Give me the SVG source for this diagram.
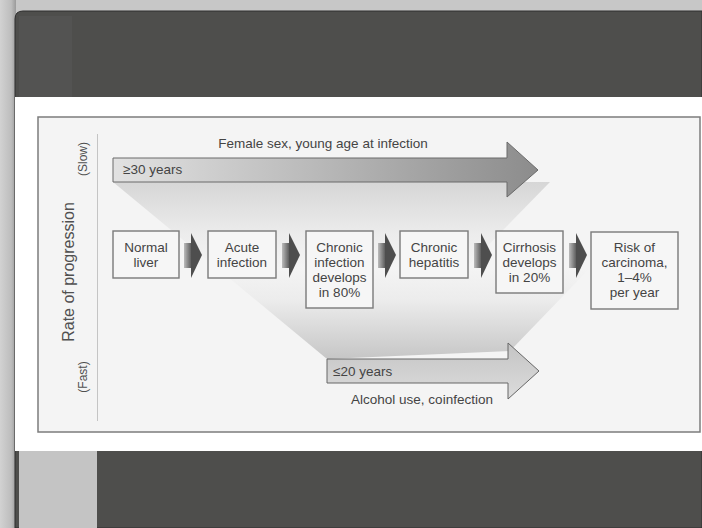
<svg xmlns="http://www.w3.org/2000/svg" width="702" height="528" viewBox="0 0 702 528">
  <defs>
    <linearGradient id="leftStrip" x1="0" y1="0" x2="1" y2="0">
      <stop offset="0" stop-color="#d2d2d2"/>
      <stop offset="0.7" stop-color="#bdbdbd"/>
      <stop offset="1" stop-color="#9a9a9a"/>
    </linearGradient>
    <linearGradient id="topArrowGrad" gradientUnits="userSpaceOnUse" x1="113" y1="0" x2="538" y2="0">
      <stop offset="0" stop-color="#e2e2e2"/>
      <stop offset="1" stop-color="#8c8c8c"/>
    </linearGradient>
    <linearGradient id="botArrowGrad" gradientUnits="userSpaceOnUse" x1="0" y1="343" x2="0" y2="399">
      <stop offset="0" stop-color="#c4c4c4"/>
      <stop offset="1" stop-color="#dcdcdc"/>
    </linearGradient>
    <linearGradient id="topWedge" gradientUnits="userSpaceOnUse" x1="0" y1="182" x2="0" y2="268">
      <stop offset="0" stop-color="#d6d6d6"/>
      <stop offset="0.6" stop-color="#ececec"/>
      <stop offset="1" stop-color="#f4f4f4"/>
    </linearGradient>
    <linearGradient id="botWedge" gradientUnits="userSpaceOnUse" x1="0" y1="268" x2="0" y2="359">
      <stop offset="0" stop-color="#f4f4f4"/>
      <stop offset="0.35" stop-color="#ececec"/>
      <stop offset="1" stop-color="#c6c6c6"/>
    </linearGradient>
    <linearGradient id="shaftGrad" x1="0" y1="0" x2="1" y2="0">
      <stop offset="0" stop-color="#bcbcbc"/>
      <stop offset="1" stop-color="#5e5e5e"/>
    </linearGradient>
    <g id="stepArrow">
      <rect x="0" y="-12" width="7" height="25" fill="url(#shaftGrad)"/>
      <polygon points="7,-22 18,0 7,23" fill="#4e4e4e"/>
    </g>
  </defs>
  <style>
    .box { fill: #f6f6f6; stroke: #7a7a7a; stroke-width: 1.4; }
    .lbl { font-family: "Liberation Sans", Arial, sans-serif; font-size: 13.5px; fill: #444444; text-anchor: middle; }
    .lbl2 { font-family: "Liberation Sans", Arial, sans-serif; font-size: 13.5px; fill: #444444; }
    .axis { font-family: "Liberation Sans", Arial, sans-serif; fill: #505050; text-anchor: middle; }
  </style>

  <!-- background -->
  <rect x="0" y="0" width="702" height="528" fill="#c7c7c7"/>
  <rect x="0" y="0" width="16" height="528" fill="url(#leftStrip)"/>
  <!-- dark frame -->
  <path d="M15,528 V19 Q15,11 23,11 H702 V528 Z" fill="#4e4e4c" stroke="#2e2e2e" stroke-width="1"/>
  <rect x="19" y="16" width="53" height="81" fill="#535352"/>
  <!-- white band -->
  <rect x="15" y="97" width="687" height="354" fill="#ffffff"/>
  <!-- bottom left light area -->
  <rect x="19" y="451" width="78" height="77" fill="#c4c4c4"/>

  <!-- panel -->
  <rect x="38" y="117" width="662" height="315" fill="#f4f4f4" stroke="#7c7c7c" stroke-width="1.5"/>
  <line x1="97.5" y1="134" x2="97.5" y2="421" stroke="#c4c4c4" stroke-width="1"/>

  <!-- axis labels -->
  <text class="axis" font-size="16" transform="translate(73.5,272) rotate(-90)">Rate of progression</text>
  <text class="axis" font-size="12" transform="translate(86.5,159) rotate(-90)">(Slow)</text>
  <text class="axis" font-size="12" transform="translate(86.5,377) rotate(-90)">(Fast)</text>

  <!-- wedges -->
  <polygon points="113,182 550,182 466,268 217,268" fill="url(#topWedge)"/>
  <polygon points="217,268 590,268 510,351 327,359" fill="url(#botWedge)"/>

  <!-- big arrows -->
  <g id="slow-arrow">
    <polygon points="113,158 507,158 507,142 538,170 507,197 507,182 113,182" fill="url(#topArrowGrad)" stroke="#6a6a6a" stroke-width="1"/>
    <text class="lbl2" x="123" y="174">≥30 years</text>
    <text class="lbl" x="323" y="148">Female sex, young age at infection</text>
  </g>
  <g id="fast-arrow">
    <polygon points="327,359 508,359 508,343 539,371 508,399 508,383 327,383" fill="url(#botArrowGrad)" stroke="#666666" stroke-width="1"/>
    <text class="lbl2" x="333" y="376">≤20 years</text>
    <text class="lbl" x="422" y="404">Alcohol use, coinfection</text>
  </g>

  <!-- connectors -->
  <g id="connectors">
    <use href="#stepArrow" x="184" y="255"/>
    <use href="#stepArrow" x="282" y="255"/>
    <use href="#stepArrow" x="378" y="255"/>
    <use href="#stepArrow" x="474" y="255"/>
    <use href="#stepArrow" x="569" y="255"/>
  </g>

  <!-- nodes -->
  <g id="normal-liver">
    <rect class="box" x="113" y="231" width="66" height="47"/>
    <text class="lbl" x="146" y="252">Normal</text>
    <text class="lbl" x="146" y="267">liver</text>
  </g>
  <g id="acute-infection">
    <rect class="box" x="208" y="231" width="68" height="47"/>
    <text class="lbl" x="242" y="252">Acute</text>
    <text class="lbl" x="242" y="267">infection</text>
  </g>
  <g id="chronic-infection">
    <rect class="box" x="306" y="231" width="67" height="77"/>
    <text class="lbl" x="339.5" y="252">Chronic</text>
    <text class="lbl" x="339.5" y="267">infection</text>
    <text class="lbl" x="339.5" y="282">develops</text>
    <text class="lbl" x="339.5" y="297">in 80%</text>
  </g>
  <g id="chronic-hepatitis">
    <rect class="box" x="400" y="231" width="68" height="47"/>
    <text class="lbl" x="434" y="252">Chronic</text>
    <text class="lbl" x="434" y="267">hepatitis</text>
  </g>
  <g id="cirrhosis">
    <rect class="box" x="496" y="231" width="67" height="62"/>
    <text class="lbl" x="529.5" y="252">Cirrhosis</text>
    <text class="lbl" x="529.5" y="267">develops</text>
    <text class="lbl" x="529.5" y="282">in 20%</text>
  </g>
  <g id="carcinoma">
    <rect class="box" x="591" y="232" width="87" height="77"/>
    <text class="lbl" x="634.5" y="252">Risk of</text>
    <text class="lbl" x="634.5" y="267">carcinoma,</text>
    <text class="lbl" x="634.5" y="282">1–4%</text>
    <text class="lbl" x="634.5" y="297">per year</text>
  </g>
</svg>
